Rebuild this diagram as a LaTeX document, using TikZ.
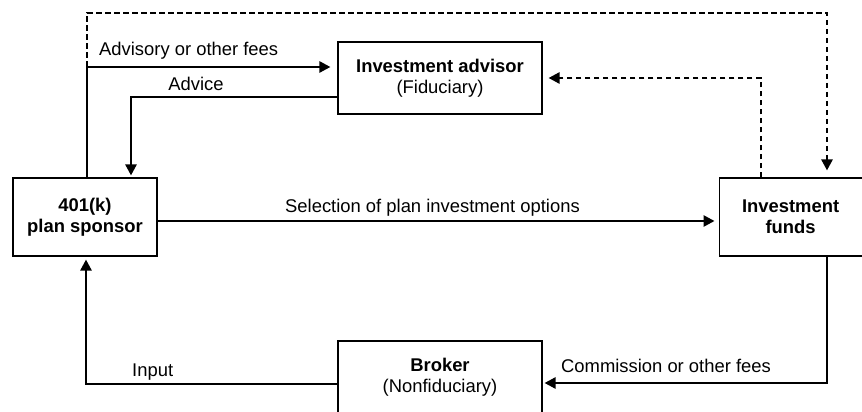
\documentclass[tikz,border=0pt]{standalone}
\usepackage{fontspec}
\setmainfont{Liberation Sans}
\usetikzlibrary{positioning,arrows.meta}

\tikzset{
  party/.style={draw, line width=1.1pt, align=center, inner sep=0pt},
  flow/.style={line width=2.5pt, miter limit=10, -{Triangle[length=11pt,width=11pt]}, shorten >=3pt},
  link/.style={flow, dash pattern=on 5.5pt off 3.5pt},
  tag/.style={inner sep=0pt, anchor=base west}
}

\begin{document}
\begin{tikzpicture}[x=1pt, y=1pt, font=\fontsize{18.4}{20.5}\selectfont]
\useasboundingbox (0,0) rectangle (862,412);

% the four parties
\node[party, minimum width=144pt, minimum height=78pt] (sponsor) at (85,195) {\textbf{401(k)}\\ \textbf{plan sponsor}};
\node[party, minimum width=143pt, minimum height=78pt, right=561pt of sponsor] (funds) {\textbf{Investment}\\ \textbf{funds}};
\node[party, minimum width=204pt, minimum height=72pt] (advisor) at (440,334) {\textbf{Investment advisor}\\ (Fiduciary)};
\node[party, minimum width=204pt, minimum height=72pt] (broker) at (440,35) {\textbf{Broker}\\ (Nonfiduciary)};

% corners of the connectors
\coordinate (feecorner) at (87,345);
\coordinate (advicecorner) at (131,315);
\coordinate (topleft) at (87,399);
\coordinate (topright) at (827,399);
\coordinate (fundsup) at (761,334);
\coordinate (fundsdown) at (827,29);
\coordinate (inputcorner) at (86,28);

% dashed links
\draw[link, shorten >=7pt] (feecorner) -- (topleft) -- (topright) -- (funds.north -| topright);
\draw[link, shorten >=6pt] (funds.north -| fundsup) -- (fundsup) -- (advisor.east);

% solid flows
\draw[flow, shorten >=7pt] (sponsor.north -| feecorner) -- (feecorner) -- (feecorner -| advisor.west);
\draw[flow, shorten >=2pt] (advisor.west |- advicecorner) -- (advicecorner) -- (advicecorner |- sponsor.north);
\draw[flow, shorten >=4pt] ([yshift=-4pt]sponsor.east) -- ([yshift=-4pt]funds.west);
\draw[flow, shorten >=2pt] (funds.south -| fundsdown) -- (fundsdown) -- (fundsdown -| broker.east);
\draw[flow] (broker.west |- inputcorner) -- (inputcorner) -- (inputcorner |- sponsor.south);

% labels
\node[tag] (feetext) at (99,356) {Advisory or other fees};
\node[tag, anchor=base] (advicetext) at (196,321) {Advice};
\node[tag] (selecttext) at (285,199) {Selection of plan investment options};
\node[tag] (commtext) at (561,39) {Commission or other fees};
\node[tag] (inputtext) at (132,35) {Input};

\end{tikzpicture}
\end{document}
